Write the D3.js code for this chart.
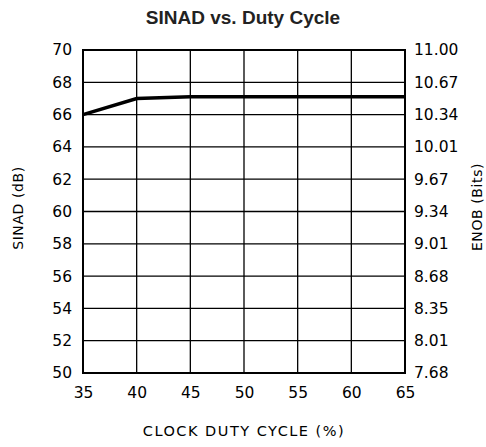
<!DOCTYPE html>
<html><head><meta charset="utf-8">
<script src="https://cdn.jsdelivr.net/npm/d3@7"></script>
<style>body{margin:0;background:#fff}</style>
</head><body><svg id="c" width="486" height="447"></svg>
<script>
const xTicks = [35, 40, 45, 50, 55, 60, 65];
const yTicks = [50, 52, 54, 56, 58, 60, 62, 64, 66, 68, 70];
const enobLabels = ["7.68", "8.01", "8.35", "8.68", "9.01", "9.34", "9.67", "10.01", "10.34", "10.67", "11.00"];
const dutyCycle = [35, 40, 45, 50, 55, 60, 65];
const sinad = [66.0, 67.0, 67.1, 67.1, 67.1, 67.1, 67.1];

const svg = d3.select("#c");
const m = {l: 83, r: 405, t: 50, b: 373};
const x = d3.scaleLinear().domain([35, 65]).range([m.l, m.r]);
const y = d3.scaleLinear().domain([50, 70]).range([m.b, m.t]);
const font = "DejaVu Sans, sans-serif";

svg.append("text").attr("x", 243).attr("y", 24).attr("text-anchor", "middle")
  .attr("font-family", "Liberation Sans, Arial, sans-serif").attr("font-weight", "bold")
  .attr("font-size", 19).attr("fill", "#222").text("SINAD vs. Duty Cycle");

const g = svg.append("g");
g.selectAll("line.v").data(xTicks).join("line")
  .attr("x1", d => x(d)).attr("x2", d => x(d)).attr("y1", m.t).attr("y2", m.b)
  .attr("stroke", "#000").attr("stroke-width", 1.3);
g.selectAll("line.h").data(yTicks).join("line")
  .attr("y1", d => y(d)).attr("y2", d => y(d)).attr("x1", m.l).attr("x2", m.r)
  .attr("stroke", "#000").attr("stroke-width", 1.3);
g.append("rect").attr("x", m.l).attr("y", m.t).attr("width", m.r - m.l).attr("height", m.b - m.t)
  .attr("fill", "none").attr("stroke", "#000").attr("stroke-width", 2);

const axL = d3.axisLeft(y).tickValues(yTicks).tickSize(0).tickPadding(11);
const gl = svg.append("g").attr("transform", `translate(${m.l},0)`).call(axL);
const axR = d3.axisRight(y).tickValues(yTicks).tickSize(0).tickPadding(9)
  .tickFormat((d, i) => enobLabels[i]);
const gr = svg.append("g").attr("transform", `translate(${m.r},0)`).call(axR);
const axB = d3.axisBottom(x).tickValues(xTicks).tickSize(0).tickPadding(14);
const gb = svg.append("g").attr("transform", `translate(0,${m.b})`).call(axB);
[gl, gr, gb].forEach(a => {
  a.select(".domain").remove();
  a.selectAll("text").attr("font-family", font).attr("font-size", 15.5).attr("fill", "#000");
});

svg.append("path").datum(dutyCycle.map((d, i) => [d, sinad[i]]))
  .attr("d", d3.line().x(d => x(d[0])).y(d => y(d[1])))
  .attr("fill", "none").attr("stroke", "#000").attr("stroke-width", 3.5);

svg.append("text").attr("x", 244).attr("y", 436).attr("text-anchor", "middle")
  .attr("font-family", font).attr("font-size", 14.5).attr("letter-spacing", 1.5)
  .text("CLOCK DUTY CYCLE (%)");
svg.append("text").attr("transform", "translate(23,208) rotate(-90)").attr("text-anchor", "middle")
  .attr("font-family", font).attr("font-size", 14).attr("letter-spacing", 0.6).text("SINAD (dB)");
svg.append("text").attr("transform", "translate(482,207) rotate(-90)").attr("text-anchor", "middle")
  .attr("font-family", font).attr("font-size", 14).attr("letter-spacing", 0.6).text("ENOB (Bits)");
</script></body></html>
